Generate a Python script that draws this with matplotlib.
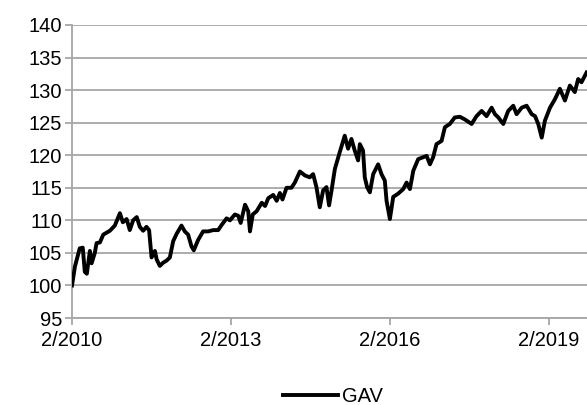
import matplotlib
matplotlib.use("Agg")
import matplotlib.pyplot as plt
import matplotlib.dates as mdates
import pandas as pd

plt.rcParams['font.family'] = ['Liberation Sans', 'DejaVu Sans']

dates = [
    "2010-02-01", "2010-02-21", "2010-03-26", "2010-04-16", "2010-04-30", "2010-05-14",
    "2010-06-04", "2010-06-16", "2010-07-08", "2010-07-20", "2010-08-12", "2010-09-04",
    "2010-10-20", "2010-11-23", "2010-12-28", "2011-01-17", "2011-02-12", "2011-03-06",
    "2011-03-29", "2011-04-23", "2011-05-14", "2011-06-06", "2011-06-29", "2011-07-17",
    "2011-08-03", "2011-08-26", "2011-09-07", "2011-09-29", "2011-10-22", "2011-11-14",
    "2011-12-07", "2011-12-30", "2012-01-22", "2012-02-25", "2012-03-19", "2012-04-11",
    "2012-05-04", "2012-05-20", "2012-06-19", "2012-07-23", "2012-08-27", "2012-10-01",
    "2012-11-04", "2012-11-28", "2013-01-01", "2013-01-24", "2013-02-27", "2013-03-22",
    "2013-04-08", "2013-05-08", "2013-05-30", "2013-06-11", "2013-06-30", "2013-07-27",
    "2013-08-31", "2013-09-23", "2013-10-15", "2013-11-18", "2013-12-12", "2014-01-03",
    "2014-01-21", "2014-02-18", "2014-03-24", "2014-04-16", "2014-05-21", "2014-06-24",
    "2014-07-28", "2014-08-20", "2014-09-12", "2014-10-05", "2014-10-28", "2014-11-20",
    "2014-12-08", "2014-12-25", "2015-01-17", "2015-02-20", "2015-03-26", "2015-04-18",
    "2015-05-11", "2015-06-03", "2015-06-26", "2015-07-08", "2015-07-30", "2015-08-11",
    "2015-08-27", "2015-09-15", "2015-10-08", "2015-11-11", "2015-12-04", "2015-12-27",
    "2016-01-08", "2016-01-31", "2016-02-23", "2016-03-28", "2016-05-02", "2016-05-25",
    "2016-06-17", "2016-07-10", "2016-08-13", "2016-09-16", "2016-10-10", "2016-11-02",
    "2016-11-24", "2016-12-17", "2017-01-21", "2017-02-13", "2017-03-19", "2017-04-22",
    "2017-05-27", "2017-06-30", "2017-08-16", "2017-09-19", "2017-10-24", "2017-11-27",
    "2018-01-01", "2018-01-24", "2018-02-16", "2018-03-22", "2018-04-25", "2018-05-30",
    "2018-06-22", "2018-07-27", "2018-08-30", "2018-10-04", "2018-10-27", "2018-11-18",
    "2018-12-12", "2019-01-03", "2019-02-07", "2019-03-13", "2019-04-16", "2019-05-21",
    "2019-06-24", "2019-07-28", "2019-08-20", "2019-09-12", "2019-10-17",
]
gav = [
    100.0, 102.9, 105.7, 105.8, 102.1, 101.8,
    105.3, 103.4, 105.0, 106.5, 106.6, 107.8,
    108.4, 109.2, 111.1, 109.7, 110.2, 108.5,
    110.0, 110.5, 109.0, 108.4, 109.0, 108.5,
    104.3, 105.3, 104.0, 103.0, 103.5, 103.8,
    104.3, 106.8, 107.9, 109.2, 108.3, 107.8,
    106.0, 105.4, 107.0, 108.3, 108.3, 108.5,
    108.5, 109.3, 110.3, 110.0, 110.9, 110.7,
    109.6, 112.4, 111.4, 108.3, 110.9, 111.4,
    112.7, 112.2, 113.4, 113.9, 113.0, 114.2,
    113.2, 115.0, 115.0, 115.8, 117.5, 116.9,
    116.6, 117.1, 115.1, 112.0, 114.6, 115.1,
    112.3, 114.6, 117.9, 120.5, 123.0, 121.0,
    122.5, 120.7, 119.2, 121.7, 120.7, 116.6,
    115.1, 114.3, 117.1, 118.6, 117.1, 116.1,
    113.0, 110.2, 113.6, 114.1, 114.8, 115.8,
    114.8, 117.6, 119.4, 119.7, 119.9, 118.6,
    119.7, 121.7, 122.2, 124.3, 124.8, 125.8,
    125.9, 125.5, 124.8, 126.0, 126.8, 126.0,
    127.3, 126.3, 125.8, 124.8, 126.8, 127.6,
    126.3, 127.3, 127.6, 126.3, 126.0, 124.8,
    122.7, 125.3, 127.3, 128.6, 130.2, 128.4,
    130.7, 129.7, 131.7, 131.2, 132.7,
]
series_name = "GAV"
x_ticks = ["2010-02-01", "2013-02-01", "2016-02-01", "2019-02-01"]
x_tick_labels = ["2/2010", "2/2013", "2/2016", "2/2019"]
y_ticks = [95, 100, 105, 110, 115, 120, 125, 130, 135, 140]

x = pd.to_datetime(dates)

fig = plt.figure(figsize=(5.87, 4.05), dpi=100)
ax = fig.add_axes([0.1227, 0.2148, 0.8773, 0.7235])

grid_c = "#a6a6a6"
ax.plot(x, gav, color="black", lw=2.8, solid_joinstyle="round", label=series_name, zorder=3)

ax.set_ylim(95, 140)
ax.set_xlim(pd.Timestamp("2010-02-01"), pd.Timestamp("2019-10-20"))
ax.set_yticks(y_ticks)
ax.set_xticks(pd.to_datetime(x_ticks))
ax.set_xticklabels(x_tick_labels)
ax.yaxis.grid(True, color=grid_c, lw=1.3)
ax.set_axisbelow(True)

for s in ["top", "right"]:
    ax.spines[s].set_visible(False)
for s in ["left", "bottom"]:
    ax.spines[s].set_color(grid_c)
    ax.spines[s].set_linewidth(1.3)

ax.tick_params(axis="both", labelsize=14.5, colors=grid_c, labelcolor="black",
               length=5, width=1.3, direction="out")
ax.tick_params(axis="x", pad=4)
ax.tick_params(axis="y", pad=2)

fig.legend(loc="center", bbox_to_anchor=(0.567, 0.022), frameon=False,
           fontsize=14.5, handlelength=2.7, handletextpad=0.2, borderpad=0.2)

fig.savefig("out.png", dpi=100)
